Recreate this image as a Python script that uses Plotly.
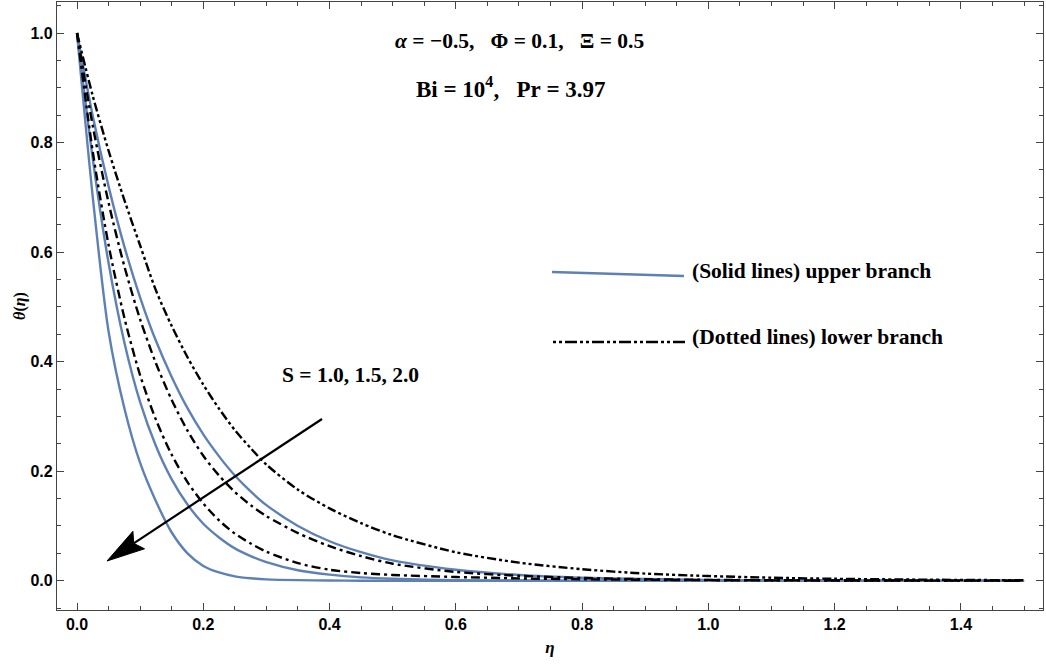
import numpy as np
import plotly.graph_objects as go

# ---- data ----
eta = [0, 0.025, 0.05, 0.075, 0.1, 0.125, 0.15, 0.175, 0.2, 0.225, 0.25, 0.275, 0.3,
       0.35, 0.4, 0.45, 0.5, 0.6, 0.7, 0.8, 0.9, 1.0, 1.1, 1.2, 1.35, 1.5]

upper_S20 = [1, 0.70, 0.455, 0.315, 0.215, 0.145, 0.088, 0.05, 0.027, 0.015, 0.008, 0.0045,
             0.0025, 0.001, 0.0004, 0, 0, 0, 0, 0, 0, 0, 0, 0, 0, 0]
upper_S15 = [1, 0.77, 0.58, 0.435, 0.326, 0.246, 0.185, 0.139, 0.104, 0.079, 0.059, 0.045,
             0.034, 0.019, 0.011, 0.006, 0.0035, 0.0011, 0.0004, 0, 0, 0, 0, 0, 0, 0]
upper_S10 = [1, 0.848, 0.72, 0.61, 0.517, 0.438, 0.372, 0.315, 0.267, 0.227, 0.192, 0.163,
             0.138, 0.10, 0.072, 0.052, 0.037, 0.02, 0.0105, 0.0055, 0.003, 0.0015, 0.0008,
             0.0004, 0.0001, 0]
lower_S20 = [1, 0.783, 0.613, 0.48, 0.375, 0.294, 0.23, 0.18, 0.141, 0.11, 0.086, 0.068,
             0.053, 0.032, 0.02, 0.014, 0.0105, 0.0068, 0.0042, 0.0026, 0.0016, 0.001, 0.0006,
             0.0004, 0.0002, 0]
lower_S15 = [1, 0.83, 0.69, 0.574, 0.477, 0.397, 0.33, 0.274, 0.228, 0.192, 0.162, 0.138,
             0.118, 0.087, 0.063, 0.045, 0.031, 0.016, 0.009, 0.005, 0.0027, 0.0015, 0.0009,
             0.0005, 0.0002, 0]
lower_S10 = [1, 0.885, 0.785, 0.695, 0.612, 0.53, 0.465, 0.408, 0.358, 0.314, 0.275, 0.242,
             0.212, 0.166, 0.132, 0.105, 0.083, 0.052, 0.033, 0.021, 0.013, 0.0085, 0.0055,
             0.0035, 0.0018, 0.0008]

x_ticks = [0.0, 0.2, 0.4, 0.6, 0.8, 1.0, 1.2, 1.4]
y_ticks = [0.0, 0.2, 0.4, 0.6, 0.8, 1.0]

# ---- styling ----
W, H = 1046, 664
ML, MR, MT, MB = 57, 3, 2, 54
XR = [-0.0317, 1.530]
YR = [-0.0535, 1.0566]
BLUE = "#5E81B5"
DASH_A = "9px,4px,3px,4px"
DASH_B = "9px,3px,3px,3px,3px,3px"

pw, ph = W - ML - MR, H - MT - MB


def px2d(px, py):
    x = XR[0] + (px - ML) / pw * (XR[1] - XR[0])
    y = YR[0] + (MT + ph - py) / ph * (YR[1] - YR[0])
    return x, y


fig = go.Figure()
for ys in (upper_S20, upper_S15, upper_S10):
    fig.add_trace(go.Scatter(x=eta, y=ys, mode="lines", showlegend=False,
                             line=dict(color=BLUE, width=2.4, shape="spline", smoothing=0.8)))
for ys, d in ((lower_S20, DASH_A), (lower_S15, DASH_A), (lower_S10, DASH_B)):
    fig.add_trace(go.Scatter(x=eta, y=ys, mode="lines", showlegend=False,
                             line=dict(color="black", width=2.4, dash=d, shape="spline", smoothing=0.8)))

serif = "Liberation Serif"
sans = "Liberation Sans"
SP = "\u00a0"


def txt(px, py, s, size=21.5, anchor="center"):
    x, y = px2d(px, py)
    fig.add_annotation(x=x, y=y, text=s, showarrow=False, xanchor=anchor, yanchor="middle",
                       font=dict(family=serif, size=size, color="black"))


txt(519, 41, f"<b><i>α</i>{SP}={SP}\u22120.5,{SP}{SP}{SP}Φ{SP}={SP}0.1,{SP}{SP}{SP}Ξ{SP}={SP}0.5</b>")
txt(511, 87, f"<b>Bi{SP}={SP}10<sup>4</sup>,{SP}{SP}{SP}Pr{SP}={SP}3.97</b>", size=23)
txt(280, 375, f"<b>S{SP}={SP}1.0,{SP}1.5,{SP}2.0</b>", anchor="left")
txt(690, 271, "<b>(Solid lines) upper branch</b>", anchor="left")
txt(690, 337, "<b>(Dotted lines) lower branch</b>", anchor="left")

# legend sample lines
x0, y0 = px2d(552, 272)
x1, y1 = px2d(684, 276)
fig.add_shape(type="line", x0=x0, y0=y0, x1=x1, y1=y1, line=dict(color=BLUE, width=2.5))
x0, y0 = px2d(553, 342)
x1, y1 = px2d(686, 342)
fig.add_shape(type="line", x0=x0, y0=y0, x1=x1, y1=y1,
              line=dict(color="black", width=2.5, dash="3px,3px,3px,3px,12px,3px"))

# arrow
tail = np.array([322.0, 419.0])
tip = np.array([107.0, 561.0])
u = (tip - tail) / np.linalg.norm(tip - tail)
n = np.array([-u[1], u[0]])
hl, hw, notch = 38.0, 10.5, 6.0
back = tip - u * hl
c1 = back + n * hw
c2 = back - n * hw
nb = tip - u * (hl - notch)
sx, sy = px2d(*tail)
ex, ey = px2d(*nb)
fig.add_shape(type="line", x0=sx, y0=sy, x1=ex, y1=ey, line=dict(color="black", width=2.2))
pts = [px2d(*p) for p in (tip, c1, nb, c2)]
path = "M " + " L ".join(f"{a},{b}" for a, b in pts) + " Z"
fig.add_shape(type="path", path=path, fillcolor="black", line=dict(color="black", width=1))

axis_common = dict(showline=True, linecolor="#444444", linewidth=1.2, mirror="ticks",
                   ticks="inside", ticklen=7, tickwidth=1, tickcolor="#444444",
                   showgrid=False, zeroline=False,
                   tickfont=dict(family=sans, size=16, color="black", weight="bold"))

fig.update_layout(
    width=W, height=H, margin=dict(l=ML, r=MR, t=MT, b=MB),
    paper_bgcolor="white", plot_bgcolor="white",
    xaxis=dict(range=XR, tickvals=x_ticks, ticktext=[f"{v:.1f}" for v in x_ticks],
               minor=dict(dtick=0.05, tick0=0, ticks="inside", ticklen=4, tickcolor="#444444"),
               title=dict(text="<b><i>η</i></b>", font=dict(family=serif, size=17, color="black"),
                          standoff=8),
               **axis_common),
    yaxis=dict(range=YR, tickvals=y_ticks, ticktext=[f"{v:.1f}" for v in y_ticks],
               minor=dict(dtick=0.05, tick0=0, ticks="inside", ticklen=4, tickcolor="#444444"),
               title=dict(text="<b><i>θ</i>(<i>η</i>)</b>", font=dict(family=serif, size=16, color="black"),
                          standoff=0),
               **axis_common),
)

fig.write_html("out.html", config={"displayModeBar": False},
               post_script="document.body.style.margin='0';")
